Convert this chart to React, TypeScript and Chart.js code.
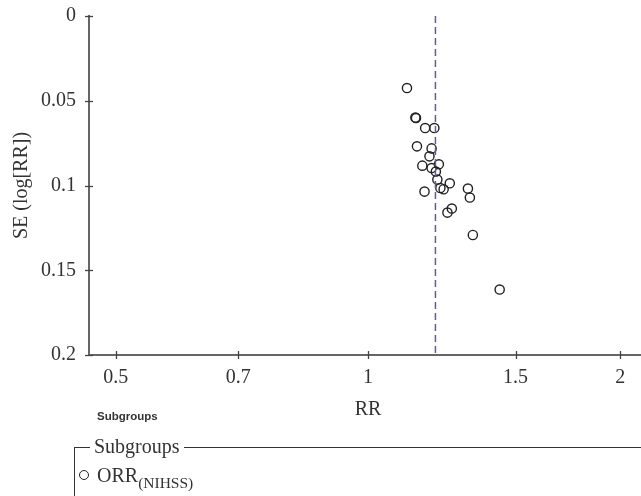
import React, { useEffect, useRef } from "react";
import { Chart, registerables } from "chart.js";

Chart.register(...registerables);

// Study estimates (risk ratio) and their standard errors of log(RR)
const rrValues = [1.113, 1.141, 1.139, 1.170, 1.200, 1.144, 1.191, 1.184, 1.161, 1.191, 1.215, 1.205, 1.210, 1.252, 1.220, 1.231, 1.168, 1.316, 1.323, 1.259, 1.244, 1.334, 1.436];
const seValues = [0.0425, 0.0602, 0.0599, 0.0661, 0.0661, 0.0769, 0.0781, 0.0828, 0.0883, 0.0897, 0.0875, 0.0918, 0.0965, 0.0987, 0.1015, 0.1022, 0.1036, 0.1018, 0.1071, 0.1136, 0.1160, 0.1292, 0.1614];
const pooledRR = 1.2036;
const xTickValues = [0.5, 0.7, 1, 1.5, 2];
const yTickValues = [0, 0.05, 0.1, 0.15, 0.2];
const xLimits = [0.4644, 2.153];
const yLimits = [0, 0.2];

const SERIF = "'Liberation Serif', 'Times New Roman', serif";

const tickMarks = {
  id: "tickMarks",
  afterDraw(chart: any) {
    const { ctx, chartArea, scales } = chart;
    ctx.save();
    ctx.strokeStyle = "#444";
    ctx.lineWidth = 1.3;
    scales.x.ticks.forEach((t: any) => {
      const px = Math.round(scales.x.getPixelForValue(t.value)) + 0.5;
      ctx.beginPath();
      ctx.moveTo(px, chartArea.bottom - 4);
      ctx.lineTo(px, chartArea.bottom + 4);
      ctx.stroke();
    });
    scales.y.ticks.forEach((t: any) => {
      const py = Math.round(scales.y.getPixelForValue(t.value)) + 0.5;
      ctx.beginPath();
      ctx.moveTo(chartArea.left - 4, py);
      ctx.lineTo(chartArea.left + 4, py);
      ctx.stroke();
    });
    ctx.restore();
  },
};

function FunnelChart() {
  const ref = useRef<HTMLCanvasElement>(null);
  useEffect(() => {
    if (!ref.current) return;
    const chart = new Chart(ref.current, {
      type: "scatter",
      data: {
        datasets: [
          {
            type: "line",
            data: [
              { x: pooledRR, y: yLimits[0] },
              { x: pooledRR, y: yLimits[1] },
            ],
            borderColor: "#5b5ca8",
            borderWidth: 1.5,
            borderDash: [7, 4],
            pointRadius: 0,
            fill: false,
          } as any,
          {
            data: rrValues.map((r, i) => ({ x: r, y: seValues[i] })),
            pointStyle: "circle",
            pointRadius: 4.6,
            pointBorderWidth: 1.4,
            borderColor: "#222",
            backgroundColor: "rgba(0,0,0,0)",
            showLine: false,
          },
        ],
      },
      options: {
        responsive: false,
        animation: false,
        devicePixelRatio: 1,
        layout: { padding: { left: 0, right: 13, top: 16, bottom: 0 } },
        plugins: { legend: { display: false }, tooltip: { enabled: false } },
        scales: {
          x: {
            type: "logarithmic",
            min: xLimits[0],
            max: xLimits[1],
            afterBuildTicks: (s: any) => {
              s.ticks = xTickValues.map((v) => ({ value: v }));
            },
            afterFit: (s: any) => {
              s.height = 85;
              s.paddingLeft = 0;
              s.paddingRight = 0;
            },
            grid: { display: false, drawTicks: false },
            border: { display: true, color: "#666", width: 2 },
            ticks: {
              color: "#333",
              font: { family: SERIF, size: 20 },
              padding: 11,
              autoSkip: false,
              maxRotation: 0,
              callback: (v: any) => String(v),
            },
            title: {
              display: true,
              text: "RR",
              color: "#333",
              font: { family: SERIF, size: 20 },
              padding: { top: 0, bottom: 18 },
            },
          },
          y: {
            type: "linear",
            reverse: true,
            min: yLimits[0],
            max: yLimits[1],
            afterBuildTicks: (s: any) => {
              s.ticks = yTickValues.map((v) => ({ value: v }));
            },
            afterFit: (s: any) => {
              s.width = 89;
              s.paddingTop = 0;
              s.paddingBottom = 0;
            },
            grid: { display: false, drawTicks: false },
            border: { display: true, color: "#666", width: 2 },
            ticks: {
              color: "#333",
              font: { family: SERIF, size: 20 },
              padding: 13,
              callback: (v: any) => String(+Number(v).toFixed(2)),
            },
            title: {
              display: true,
              text: "SE (log[RR])",
              color: "#333",
              font: { family: SERIF, size: 20 },
              padding: { top: 10, bottom: 0 },
            },
          },
        },
      },
      plugins: [tickMarks],
    });
    return () => chart.destroy();
  }, []);
  return <canvas ref={ref} width={660} height={440} style={{ position: "absolute", left: 0, top: 0, width: 660, height: 440 }} />;
}

export default function App() {
  return (
    <div style={{ position: "fixed", left: 0, top: 0, width: 641, height: 496, overflow: "hidden", background: "#fff" }}>
      <FunnelChart />
      <div
        style={{
          position: "absolute",
          left: 97,
          top: 408,
          fontFamily: "'Liberation Sans', Arial, sans-serif",
          fontWeight: "bold",
          fontSize: 11.5,
          color: "#333",
          lineHeight: "16px",
        }}
      >
        Subgroups
      </div>
      {/* legend frame */}
      <div style={{ position: "absolute", left: 74, top: 447, width: 600, height: 60, borderLeft: "1.5px solid #333", borderTop: "1.5px solid #333" }} />
      <div
        style={{
          position: "absolute",
          left: 90,
          top: 434,
          padding: "0 4px",
          background: "#fff",
          fontFamily: SERIF,
          fontSize: 20,
          lineHeight: "24px",
          color: "#333",
        }}
      >
        Subgroups
      </div>
      <div style={{ position: "absolute", left: 79, top: 470, width: 10, height: 10, border: "1.3px solid #222", borderRadius: "50%", boxSizing: "border-box" }} />
      <div style={{ position: "absolute", left: 97, top: 463, fontFamily: SERIF, fontSize: 20, lineHeight: "24px", color: "#333", whiteSpace: "nowrap" }}>
        ORR<sub style={{ fontSize: 15.5, verticalAlign: "-6px", lineHeight: 0 }}>(NIHSS)</sub>
      </div>
    </div>
  );
}
